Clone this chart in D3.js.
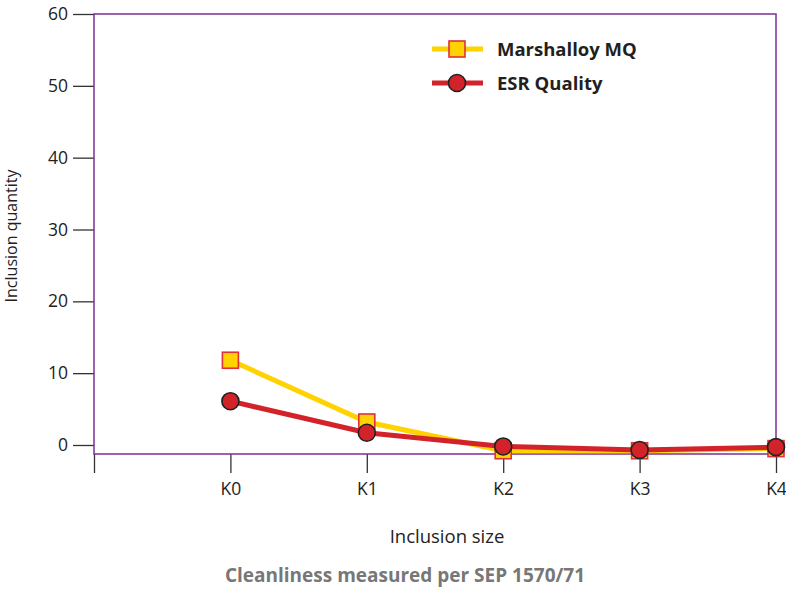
<!DOCTYPE html>
<html><head><meta charset="utf-8">
<script src="https://cdn.jsdelivr.net/npm/d3@7"></script>
<style>body{margin:0;background:#fff}svg{display:block}</style>
</head><body><svg id="c" width="786" height="594"></svg>
<script>
const categories = ["K0","K1","K2","K3","K4"];
const marshalloy = [11.8, 3.2, -0.8, -0.8, -0.5];
const esr = [6.1, 1.7, -0.2, -0.7, -0.3];
const yTicks = [0,10,20,30,40,50,60];
const seriesNames = ["Marshalloy MQ","ESR Quality"];

const svg = d3.select("#c");
const F = "'Open Sans', sans-serif";
const pL = 94, pR = 776, pT = 14, pB = 454;
const x = d3.scaleLinear().domain([-1, 4]).range([pL, pR]);
const y = d3.scaleLinear().domain([0, 60]).range([445, pT]);

// y axis ticks
const ya = svg.append("g").attr("transform", `translate(${pL},0)`)
  .call(d3.axisLeft(y).tickValues(yTicks).tickSize(21).tickPadding(5));
ya.select(".domain").remove();
ya.selectAll("line").attr("stroke", "#333").attr("stroke-width", 1.3);
ya.selectAll("text").attr("font-family", F).attr("font-size", 17.5).attr("fill", "#222");

// x axis ticks
const xa = svg.append("g").attr("transform", `translate(0,${pB})`)
  .call(d3.axisBottom(x).tickValues([-1,0,1,2,3,4]).tickSize(19).tickPadding(10)
    .tickFormat(d => d < 0 ? "" : categories[d]));
xa.select(".domain").remove();
xa.selectAll("line").attr("stroke", "#333").attr("stroke-width", 1.3);
xa.selectAll("text").attr("font-family", F).attr("font-size", 17.5).attr("fill", "#222");

// frame
svg.append("rect").attr("x", pL).attr("y", pT).attr("width", pR-pL).attr("height", pB-pT)
  .attr("fill", "none").attr("stroke", "#7b2f92").attr("stroke-width", 1.5);

const line = d3.line().x((d,i) => x(i)).y(d => y(d));
svg.append("path").datum(marshalloy).attr("d", line).attr("fill","none")
  .attr("stroke","#ffd200").attr("stroke-width",5);
svg.append("path").datum(esr).attr("d", line).attr("fill","none")
  .attr("stroke","#d2232a").attr("stroke-width",5);

svg.selectAll(".sq").data(marshalloy).join("rect")
  .attr("x",(d,i)=>x(i)-8).attr("y",d=>y(d)-8).attr("width",16).attr("height",16)
  .attr("fill","#ffd200").attr("stroke","#e0303a").attr("stroke-width",1.6);
svg.selectAll(".ci").data(esr).join("circle")
  .attr("cx",(d,i)=>x(i)).attr("cy",d=>y(d)).attr("r",8.5)
  .attr("fill","#d2232a").attr("stroke","#222").attr("stroke-width",1.6);

// legend
const lg = [{name:seriesNames[0], c:"#ffd200", y:49}, {name:seriesNames[1], c:"#d2232a", y:83}];
lg.forEach((l,i) => {
  svg.append("line").attr("x1",432).attr("x2",483).attr("y1",l.y).attr("y2",l.y)
    .attr("stroke",l.c).attr("stroke-width",5);
  if (i===0) svg.append("rect").attr("x",449).attr("y",l.y-8).attr("width",16).attr("height",16)
    .attr("fill","#ffd200").attr("stroke","#e0303a").attr("stroke-width",1.6);
  else svg.append("circle").attr("cx",457).attr("cy",l.y).attr("r",8.5)
    .attr("fill","#d2232a").attr("stroke","#222").attr("stroke-width",1.6);
  svg.append("text").attr("x",497).attr("y",l.y+6.5).text(l.name)
    .attr("font-family",F).attr("font-weight","bold").attr("font-size",18.5).attr("fill","#231f20");
});

svg.append("text").attr("x",447).attr("y",543).attr("text-anchor","middle")
  .attr("font-family",F).attr("font-size",18.5).attr("fill","#222").text("Inclusion size");
svg.append("text").attr("transform","translate(17,236) rotate(-90)").attr("text-anchor","middle")
  .attr("font-family",F).attr("font-size",16).attr("fill","#222").text("Inclusion quantity");
svg.append("text").attr("x",405).attr("y",582).attr("text-anchor","middle")
  .attr("font-family",F).attr("font-weight","bold").attr("font-size",19).attr("fill","#777").text("Cleanliness measured per SEP 1570/71");
</script></body></html>
